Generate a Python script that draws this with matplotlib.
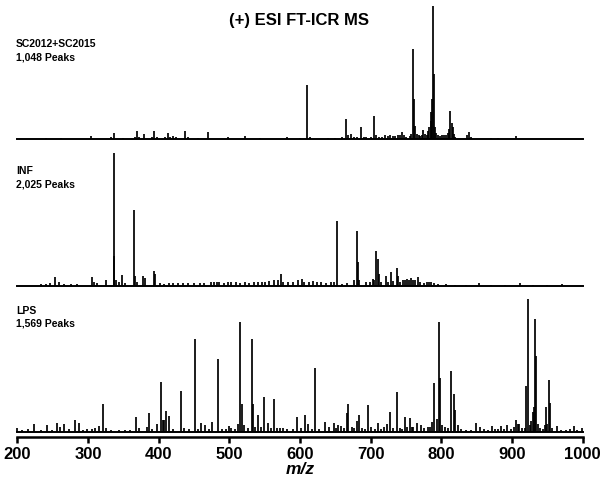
import matplotlib
matplotlib.use("Agg")
import matplotlib.pyplot as plt

plt.rcParams['font.family'] = ['Liberation Sans', 'DejaVu Sans']

# ---- spectra: m/z positions and relative intensities (%) ----
sc_mz = [240.6, 262, 304, 333, 337.5, 350, 366, 369.5, 372, 379.5, 390, 394, 398, 409,
         413, 416, 421, 424, 437.5, 441, 455, 469.8, 497.5, 522.4, 544, 581, 600, 610.5,
         614, 640, 650, 660, 664.6, 668, 672, 676, 680, 686.3, 690, 694, 700, 704.2, 708,
         712, 716, 720.7, 724, 728, 732, 735, 738, 741, 744.3, 747, 750, 755, 757, 759.8,
         761.7, 763, 765, 768, 770, 772, 774, 777, 779, 781, 782.5, 784.9, 786, 787,
         788.2, 789.6, 791, 793, 795, 798, 801, 804, 807, 809, 811, 812.6, 814.6, 816,
         818, 820, 836, 838.6, 842, 870, 880, 905.6, 930, 960]
sc_int = [1, 0.8, 2.5, 1.5, 4.4, 1, 2, 6.2, 2, 3.7, 2, 6.2, 2, 2,
          4.8, 1.5, 2.5, 1.5, 6, 1.5, 1, 5.3, 1.8, 2.3, 1, 1.8, 1, 40.6,
          2, 0.8, 1, 1.5, 15, 3, 4.3, 2, 1.5, 9, 2, 1.5, 2, 17.5, 3,
          2, 1.5, 3.3, 2.5, 3, 2.8, 2.5, 3, 3.5, 5.8, 3, 2, 2.5, 4, 67.4,
          30, 10, 4, 3, 2.5, 3.5, 6.8, 4, 3, 6, 9, 20.5, 14, 30,
          100, 49, 9, 5, 3.5, 2.5, 3, 3, 3, 5, 8, 21.5, 12.5, 9,
          4, 2, 3, 5.5, 2, 0.8, 0.8, 2.3, 0.6, 0.6]

inf_mz = [233, 240, 246, 253.3, 259.4, 266, 276, 284, 305.3, 308, 313, 325.5, 336.5, 337.3,
          340, 344, 348, 353, 365.6, 367, 370, 378.3, 381, 393, 395.3, 402, 408, 414, 420,
          428, 434, 442, 450, 458, 464, 474, 478, 482, 486, 492, 498, 503, 510, 515, 522,
          528, 535, 540, 546, 551, 556, 563, 569, 573, 576, 583, 590, 597.6, 602.4, 606,
          613, 619, 624, 630, 637, 644, 648, 652.7, 660, 666, 676, 680.6, 681.6, 684,
          693.4, 699, 702.8, 705, 708, 710.4, 712.2, 715, 721.6, 725, 729.2, 732, 736.8,
          738.4, 742, 746, 749, 752, 754, 757, 760, 763, 767.4, 770, 775, 780, 783, 785.3,
          789, 795, 806, 820, 835, 853.2, 870, 890, 911.3, 930, 950, 970.2]
inf_int = [1.5, 1.5, 1.8, 6.5, 3, 1, 1, 1, 6.5, 2.5, 2, 4.5, 100, 22,
           4, 2.5, 8.3, 2, 57, 7, 3, 7.3, 6, 11.3, 8.8, 2, 1.5, 2, 1.8,
           2, 2, 1.8, 1.8, 1.8, 2, 2.5, 3, 2.5, 3, 2, 2.5, 2.5, 2.5, 2, 2.5,
           2, 3, 2.5, 2.5, 3, 3.5, 4, 4.5, 8.5, 3, 3, 3, 4, 5, 2.5,
           2.5, 3.5, 2.5, 2.5, 2, 2.5, 2.5, 49, 1.5, 2, 4, 41.4, 18, 4,
           3, 2.5, 5, 4, 26, 20, 9, 3, 7, 3, 10.5, 3.5, 13.3,
           7, 3, 4.5, 4, 5, 4, 5.5, 4, 4.5, 6.5, 3, 2, 3, 3, 3,
           2, 1.2, 1, 0.8, 0.8, 2, 0.7, 0.8, 1.8, 0.7, 0.7, 1.5]

lps_mz = [200, 206, 215, 224, 233, 242, 249, 256, 260, 266, 273, 281, 288, 293, 298, 305,
          310, 316, 321, 325, 333, 344, 352, 360, 368, 372, 383, 387, 391, 397, 403, 406.5,
          408, 411, 415, 420, 431, 436, 443, 451, 455, 460, 466, 471, 476, 484.6, 490, 496,
          500, 503, 508, 512, 515, 518, 521, 526, 532, 533.5, 537, 540, 545, 549, 555, 559,
          563.7, 568, 572, 575.6, 582, 590, 596, 601, 606.5, 612, 617, 621.7, 627, 634.7,
          640.7, 647.7, 651, 654, 658, 662, 666.7, 668.3, 673, 677, 681, 683.5, 688, 692,
          696.5, 701, 706, 710, 714, 718.7, 723.6, 728, 732, 737, 741, 744, 748.5, 752, 755,
          758, 760, 765, 771, 775, 781.6, 784, 787, 790, 793.6, 796.7, 798, 801, 805, 809,
          813.5, 818, 820, 824, 828, 835, 842, 848.8, 854, 860, 866, 871, 876, 880, 884.5,
          888, 892.7, 898, 903, 906, 908, 910, 914, 918, 920.3, 922.5, 925, 927, 929, 931,
          932.2, 934, 936.6, 940, 944, 946, 948, 950, 952, 953.4, 957, 964, 970, 976, 982,
          987.5, 992, 998.5]
lps_int = [3, 1.5, 2.5, 6, 1.5, 5, 1.5, 7, 3.5, 6, 2, 9, 6.5, 1.5, 2, 2,
           3, 4.5, 21, 3, 1.5, 1.8, 1.2, 1.5, 11, 3, 3.5, 14, 2.5, 6, 38, 9,
           9, 16, 12, 2.5, 31, 3.3, 2, 70, 2, 7, 5.3, 2.5, 7.5, 55, 2, 2.5,
           4.3, 3, 2, 5.8, 83, 21, 5, 3, 70, 21, 4, 13, 3.5, 26, 7, 3,
           25, 3, 3, 3, 2, 2, 11, 3, 12.5, 5.8, 2, 48, 2.5, 7.5,
           3.8, 7, 3, 5, 4.8, 3, 14, 21, 3.8, 3, 8, 13, 3, 2.5,
           20, 3.8, 2.5, 7, 2.5, 3.8, 6.3, 15, 3, 30, 3, 2.5, 11, 4, 10.5,
           4, 3.8, 6.8, 5.3, 3, 3.8, 4, 7.5, 37, 10, 83, 41, 5, 3.8, 3,
           46, 29, 16.4, 5, 2, 1.5, 1.5, 7, 3.8, 2, 1.5, 4.3, 2, 2, 4.3,
           2, 5, 2.5, 4, 9, 6, 6.3, 3, 3, 34.5, 100, 5, 8, 15, 19,
           85, 57, 6.3, 3, 2.5, 5, 19, 6, 39.5, 22, 3, 4.3, 1.5, 1.5, 2,
           4.3, 1.5, 3]

panel_names = ["SC2012+SC2015", "INF", "LPS"]
panel_counts = ["1,048 Peaks", "2,025 Peaks", "1,569 Peaks"]
xticks = [200, 300, 400, 500, 600, 700, 800, 900, 1000]

W, H = 600, 483
fig = plt.figure(figsize=(W / 100, H / 100), dpi=100)

x0, x1 = 17.3, 582.7
# (baseline pixel, top pixel, axes-bottom pixel) for each panel
geom = [(139.3, 6.0, 139.3), (285.7, 152.7, 285.7), (432.0, 299.3, 437.0)]
spectra = [(sc_mz, sc_int), (inf_mz, inf_int), (lps_mz, lps_int)]

axes = []
for i, ((base, top, bot), (mz, inten)) in enumerate(zip(geom, spectra)):
    ax = fig.add_axes([x0 / W, 1 - bot / H, (x1 - x0) / W, (bot - top) / H])
    ppu = (base - top) / 100.0
    ymin = -(bot - base) / ppu
    ax.set_xlim(200, 1000)
    ax.set_ylim(ymin, 100)
    ax.axhline(0, color='black', lw=1.4, zorder=2, clip_on=False)
    ax.vlines(mz, 0, inten, color='black', lw=1.25, clip_on=False, zorder=3)
    for s in ax.spines.values():
        s.set_visible(False)
    ax.set_yticks([])
    ax.patch.set_alpha(0)
    if i < 2:
        ax.set_xticks([])
    else:
        ax.spines['bottom'].set_visible(True)
        ax.spines['bottom'].set_linewidth(1.8)
        ax.set_xticks(xticks)
        ax.tick_params(axis='x', direction='out', length=4.5, width=1.8, pad=3)
        for lab in ax.get_xticklabels():
            lab.set_fontsize(12)
            lab.set_fontweight('bold')
        ax.set_xlabel("m/z", fontsize=12.5, fontweight='bold', style='italic', labelpad=0)
    axes.append(ax)

# panel annotations
label_y = [(43.7, 57.3), (171.0, 184.7), (310.7, 323.3)]
for (y1, y2), name, cnt in zip(label_y, panel_names, panel_counts):
    fig.text(16 / W, 1 - y1 / H, name, fontsize=7.5, fontweight='bold', va='center', ha='left')
    fig.text(16 / W, 1 - y2 / H, cnt, fontsize=7.5, fontweight='bold', va='center', ha='left')

fig.text(299 / W, 1 - 21 / H, "(+) ESI FT-ICR MS", fontsize=12, fontweight='bold',
         ha='center', va='center')

fig.savefig("out.png", dpi=100)
